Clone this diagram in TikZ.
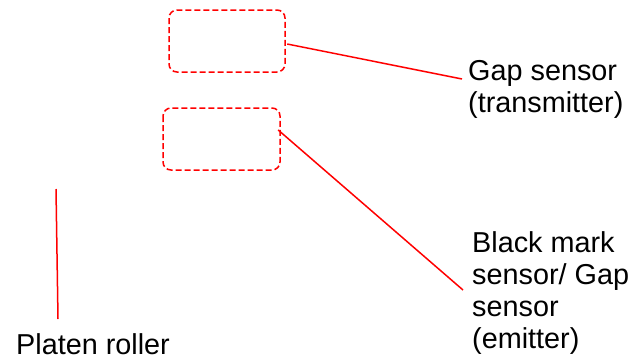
\documentclass[tikz,border=0pt]{standalone}
\usepackage{fontspec}
\setmainfont{Liberation Sans}
\begin{document}
\begin{tikzpicture}[x=1pt,y=-1pt,
  sensorbox/.style={draw=red,line width=1.5pt,dash pattern=on 6pt off 3pt,rounded corners=8pt},
  leader/.style={draw=red,line width=1.5pt},
  caption/.style={inner sep=0pt,anchor=base west,align=left,font=\fontsize{28.8}{32}\selectfont}]
  \useasboundingbox (0,0) rectangle (638,360);
  % sensor outlines
  \draw[sensorbox] (169,10) rectangle (285,72);
  \node[inner sep=0pt,minimum width=116pt,minimum height=62pt] (tx) at (227,41) {};
  \draw[sensorbox] (163,108) rectangle (280,170);
  \node[inner sep=0pt,minimum width=117pt,minimum height=62pt] (em) at (221.5,139) {};
  % captions (anchored at the baseline of their last line)
  \node[caption] (gap) at (468,112) {Gap sensor\\(transmitter)};
  \node[caption] (blk) at (472,348) {Black mark\\sensor/ Gap\\sensor\\(emitter)};
  \node[caption] (pr) at (16,354) {Platen roller};
  % leader lines
  \coordinate (gapend) at (462,79);
  \coordinate (blkend) at (463,290);
  \coordinate (prtop) at (56,189);
  \coordinate (prbot) at (58,319);
  \draw[leader] ([xshift=2pt,yshift=-3pt]tx.east) -- (gapend);
  \draw[leader] ([xshift=-2pt,yshift=9pt]em.east) -- (blkend);
  \draw[leader] (prtop) -- (prbot);
\end{tikzpicture}
\end{document}
